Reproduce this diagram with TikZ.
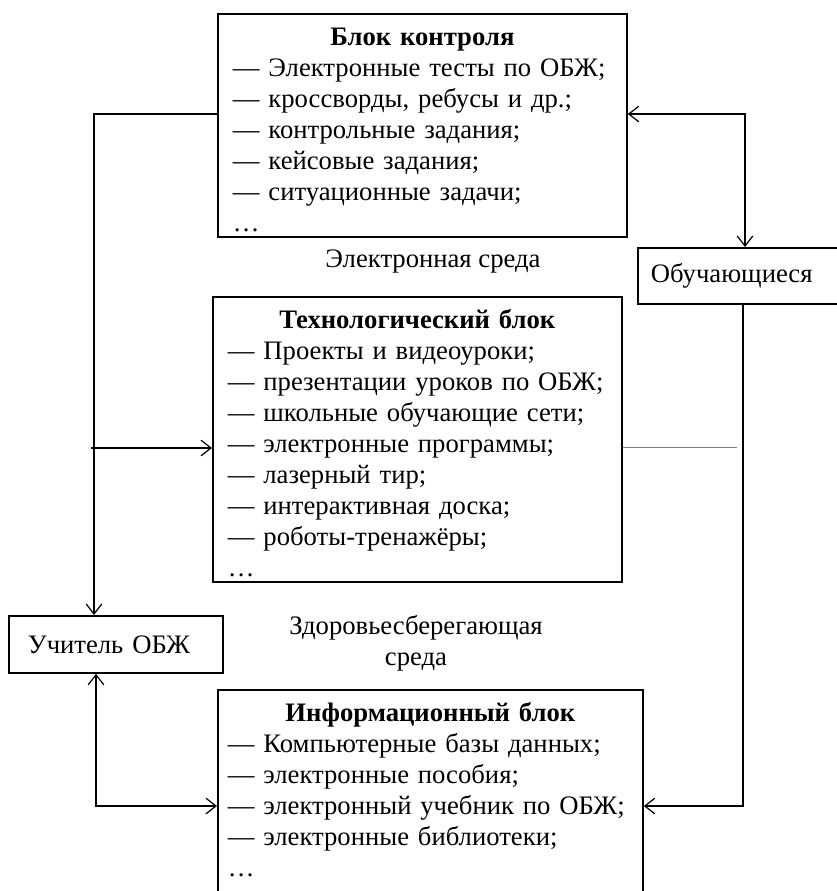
\documentclass[tikz,border=0pt]{standalone}
\usepackage{fontspec}
\setmainfont{Liberation Serif}
\usetikzlibrary{arrows.meta}
\newcommand{\blocktitle}[1]{\makebox[\linewidth]{\bfseries #1}}

\begin{document}
\begin{tikzpicture}%
	[x={(0.45pt,0pt)},
	y={(0pt,-0.45pt)},
	font=\fontsize{12}{13.95}\selectfont,
	block/.style={draw, line width=0.8pt, anchor=north west, align=left,
		inner xsep=6.75pt, inner ysep=2.25pt, text height=12.15pt},
	actor/.style={draw, line width=0.8pt, anchor=north west, align=left},
	conn/.style={line width=0.55pt},
	faint/.style={line width=0.4pt, color=gray},
	>={Straight Barb[length=4.5pt,width=7pt]}]
%
%% Page frame
%%
\useasboundingbox (0,0) rectangle (837,891);
\clip (0,0) rectangle (837,891);
%%
%% Blocks
%%
\node[block, text width=170.55pt] (kontrol) at (217,13)
	{\blocktitle{Блок контроля}\\
	— Электронные тесты по ОБЖ;\\
	— кроссворды, ребусы и др.;\\
	— контрольные задания;\\
	— кейсовые задания;\\
	— ситуационные задачи;\\
	\ldots};
\node[block, text width=170.55pt] (texno) at (212,296)
	{\blocktitle{Технологический блок}\\
	— Проекты и видеоуроки;\\
	— презентации уроков по ОБЖ;\\
	— школьные обучающие сети;\\
	— электронные программы;\\
	— лазерный тир;\\
	— интерактивная доска;\\
	— роботы-тренажёры;\\
	\ldots};
\node[block, text width=182.25pt, inner xsep=4.5pt, text depth=78pt] (info) at (217,689)
	{\blocktitle{Информационный блок}\\
	— Компьютерные базы данных;\\
	— электронные пособия;\\
	— электронный учебник по ОБЖ;\\
	— электронные библиотеки;\\
	\ldots};
%%
%% Participants
%%
\node[actor, text width=79.2pt, inner xsep=8.55pt, minimum height=25.65pt] (uchitel) at (8,615) {Учитель ОБЖ};
\node[actor, text width=90pt, inner xsep=5.85pt, minimum height=25.2pt] (obuch) at (637,247) {Обучающиеся};
%%
%% Environments
%%
\node (elsreda) at (433,262) {Электронная среда};
\node[align=center] (zdsreda) at (416,643) {Здоровьесберегающая\\среда};
%%
%% Corners of the connectors
%%
\coordinate (ltop) at (94,114);
\coordinate (lmid) at (91,448);
\coordinate (lbot) at (96,806);
\coordinate (rtop) at (745,114);
\coordinate (rmid) at (737,447);
\coordinate (rbot) at (743,806);
%%
%% Connectors
%%
\draw[conn,->] (ltop -| kontrol.west) -- (ltop) -- (ltop |- uchitel.north);
\draw[conn,->] (lmid) -- (lmid -| texno.west);
\draw[conn,<->] (lbot |- uchitel.south) -- (lbot) -- (lbot -| info.west);
\draw[conn,<->] (rtop -| kontrol.east) -- (rtop) -- (rtop |- obuch.north);
\draw[conn,->] (rbot |- obuch.south) -- (rbot) -- (rbot -| info.east);
\draw[faint] (rmid -| texno.east) -- (rmid);
%%
\end{tikzpicture}
\end{document}
